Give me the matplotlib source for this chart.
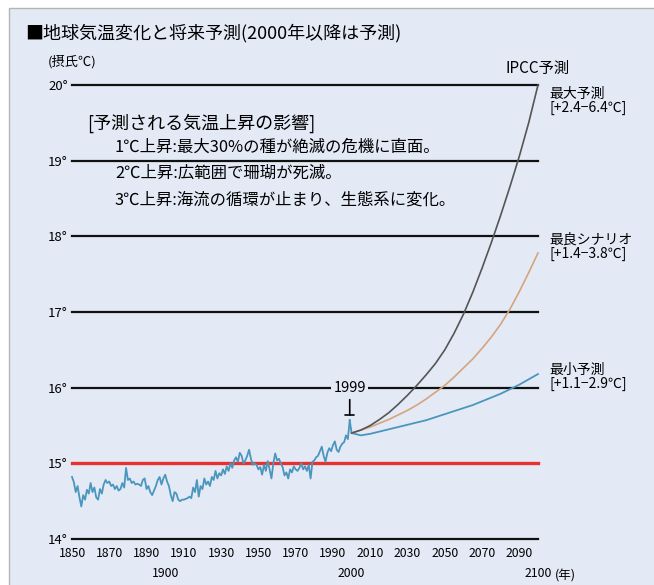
import matplotlib
matplotlib.use("Agg")
import matplotlib.pyplot as plt
import numpy as np
from matplotlib.patches import Rectangle

plt.rcParams["font.family"] = ["Noto Sans CJK JP", "DejaVu Sans"]

# observed global mean temperature (deg C), 1850-1999
hist_years = np.arange(1850, 2000)
hist_temp = [
    14.82, 14.75, 14.62, 14.70, 14.55, 14.43, 14.58, 14.52, 14.65, 14.60,
    14.74, 14.62, 14.68, 14.55, 14.52, 14.66, 14.60, 14.72, 14.78, 14.74,
    14.76, 14.70, 14.72, 14.66, 14.70, 14.64, 14.66, 14.74, 14.68, 14.94,
    14.78, 14.80, 14.74, 14.76, 14.72, 14.73, 14.72, 14.70, 14.78, 14.80,
    14.66, 14.70, 14.62, 14.58, 14.64, 14.70, 14.78, 14.82, 14.72, 14.80,
    14.85, 14.76, 14.70, 14.58, 14.50, 14.62, 14.60, 14.52, 14.50, 14.52,
    14.52, 14.53, 14.54, 14.56, 14.54, 14.68, 14.62, 14.78, 14.56, 14.70,
    14.66, 14.80, 14.72, 14.76, 14.70, 14.82, 14.78, 14.90, 14.80, 14.87,
    14.84, 14.92, 14.86, 14.96, 14.90, 15.00, 14.94, 15.04, 15.08, 15.02,
    15.14, 15.10, 15.00, 15.04, 15.10, 15.18, 15.06, 14.98, 15.00, 14.98,
    14.92, 14.95, 14.85, 14.98, 14.90, 15.03, 14.92, 14.80, 15.00, 15.13,
    15.04, 15.06, 15.00, 14.95, 14.84, 14.88, 14.80, 14.92, 14.88, 14.96,
    14.92, 14.90, 14.94, 15.00, 14.92, 14.96, 14.90, 14.98, 14.80, 15.02,
    15.04, 15.08, 15.10, 15.16, 15.22, 15.10, 15.02, 15.14, 15.20, 15.16,
    15.24, 15.29, 15.18, 15.15, 15.22, 15.26, 15.28, 15.37, 15.32, 15.57,
]

# IPCC projections 2000-2100, every 5 years
proj_years = np.arange(2000, 2101, 5)
proj_max = [15.40, 15.44, 15.50, 15.58, 15.67, 15.78, 15.90, 16.03, 16.17, 16.32,
            16.50, 16.72, 16.97, 17.26, 17.58, 17.92, 18.28, 18.66, 19.06, 19.50,
            20.00]
proj_best = [15.40, 15.44, 15.48, 15.53, 15.58, 15.64, 15.70, 15.77, 15.85, 15.94,
             16.03, 16.14, 16.26, 16.38, 16.52, 16.67, 16.84, 17.04, 17.27, 17.52,
             17.78]
proj_min = [15.40, 15.37, 15.39, 15.42, 15.45, 15.48, 15.51, 15.54, 15.57, 15.61,
            15.65, 15.69, 15.73, 15.77, 15.82, 15.87, 15.92, 15.98, 16.04, 16.11,
            16.18]

y_levels = [14, 15, 16, 17, 18, 19, 20]
x_ticks = list(range(1850, 2100, 20))
x_major = [1900, 2000, 2100]

effects = [
    "1℃上昇:最大30%の種が絶滅の危機に直面。",
    "2℃上昇:広範囲で珊瑚が死滅。",
    "3℃上昇:海流の循環が止まり、生態系に変化。",
]

BG = "#e3eaf6"
W, H = 654, 585

fig = plt.figure(figsize=(W / 100, H / 100), dpi=100)
fig.patch.set_facecolor("white")
fig.add_artist(Rectangle((9 / W, -0.05), 1.1, 1 - 8 / H + 0.05,
                         transform=fig.transFigure, facecolor=BG,
                         edgecolor="#b4b4b4", linewidth=1, zorder=-10))

ax = fig.add_axes([72 / W, 46 / H, (538 - 72) / W, (539 - 85) / H])
ax.set_facecolor("none")
ax.set_xlim(1850, 2100)
ax.set_ylim(14, 20)
for s in ax.spines.values():
    s.set_visible(False)

for lv in y_levels:
    if lv == 15:
        ax.axhline(lv, color="#e8302e", lw=2.4, zorder=2, clip_on=False)
    else:
        ax.axhline(lv, color="#111111", lw=1.6, zorder=2, clip_on=False)

ax.set_yticks(y_levels)
ax.set_yticklabels([f"{v}°" for v in y_levels], fontsize=9.5)
ax.tick_params(axis="y", length=0, pad=3)

ax.set_xticks(x_ticks)
ax.set_xticklabels([str(v) for v in x_ticks], fontsize=8.8)
ax.set_xticks(x_major, minor=True)
ax.set_xticklabels([str(v) for v in x_major], minor=True, fontsize=8.8)
ax.tick_params(axis="x", which="major", length=0, pad=6)
ax.tick_params(axis="x", which="minor", length=0, pad=20)
ax.annotate("(年)", xy=(2100, 0), xycoords=("data", "axes fraction"),
            xytext=(12, -27), textcoords="offset points", fontsize=9,
            ha="left", va="center", annotation_clip=False)

# historical + minimum projection (same blue)
blue = "#4a96bd"
ax.plot(hist_years, hist_temp, color=blue, lw=1.3, zorder=3, clip_on=False)
ax.plot(np.r_[hist_years[-1], proj_years], np.r_[hist_temp[-1], proj_min],
        color=blue, lw=1.3, zorder=3, clip_on=False)
ax.plot(proj_years, proj_best, color="#d4a57c", lw=1.2, zorder=3, clip_on=False)
ax.plot(proj_years, proj_max, color="#555555", lw=1.2, zorder=3, clip_on=False)

ax.annotate("1999", xy=(1999, 15.64), xytext=(1999, 16.0), fontsize=10.5,
            ha="center", va="center",
            bbox=dict(boxstyle="square,pad=0.15", fc=BG, ec="none"),
            arrowprops=dict(arrowstyle="-[,widthB=0.3,lengthB=0", lw=1.2,
                            color="black", shrinkA=2, shrinkB=0), zorder=4)

# right-hand labels
ax.text(2100, 20.22, "IPCC予測", fontsize=11, ha="center", va="center",
        clip_on=False)
ax.text(2106, 19.97, "最大予測\n[+2.4−6.4℃]", fontsize=10, ha="left", va="top",
        linespacing=1.0, clip_on=False)
ax.text(2106, 18.05, "最良シナリオ\n[+1.4−3.8℃]", fontsize=10, ha="left",
        va="top", linespacing=1.0, clip_on=False)
ax.text(2106, 16.33, "最小予測\n[+1.1−2.9℃]", fontsize=10, ha="left", va="top",
        linespacing=1.0, clip_on=False)

# effects box text
ax.text(1858, 19.5, "[予測される気温上昇の影響]", fontsize=13, ha="left",
        va="center")
for i, line in enumerate(effects):
    ax.text(1873, 19.18 - i * 0.35, line, fontsize=11.8, ha="left", va="center")

fig.text(25 / W, 1 - 33 / H, "■地球気温変化と将来予測(2000年以降は予測)",
         fontsize=13, ha="left", va="center")
fig.text(48 / W, 1 - 62 / H, "(摂氏℃)", fontsize=9.5, ha="left", va="center")

fig.savefig("out.png", dpi=100)
